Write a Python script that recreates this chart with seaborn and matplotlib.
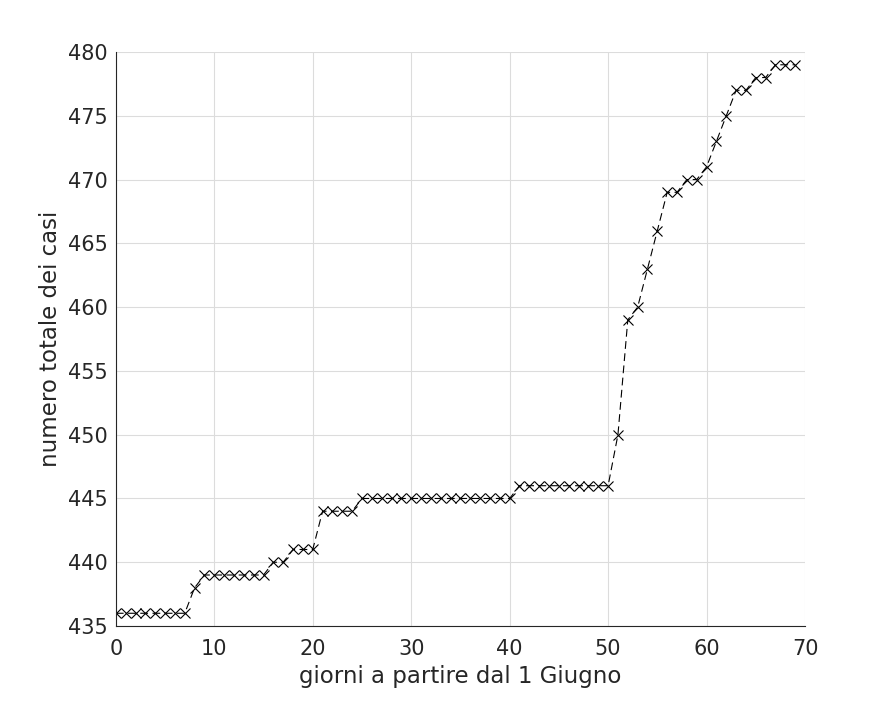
import pandas as pd
import matplotlib
matplotlib.use("Agg")
import matplotlib.pyplot as plt
import seaborn as sns

# giorni dal 1 giugno e casi totali
giorni = list(range(70))
casi = [436, 436, 436, 436, 436, 436, 436, 436, 438, 439,
        439, 439, 439, 439, 439, 439, 440, 440, 441, 441,
        441, 444, 444, 444, 444, 445, 445, 445, 445, 445,
        445, 445, 445, 445, 445, 445, 445, 445, 445, 445,
        445, 446, 446, 446, 446, 446, 446, 446, 446, 446,
        446, 450, 459, 460, 463, 466, 469, 469, 470, 470,
        471, 473, 475, 477, 477, 478, 478, 479, 479, 479]
x_ticks = [0, 10, 20, 30, 40, 50, 60, 70]
y_ticks = [435, 440, 445, 450, 455, 460, 465, 470, 475, 480]

df = pd.DataFrame({"giorni": giorni, "casi": casi})

sns.set_style("white")
plt.rcParams['font.family'] = ['DejaVu Sans']

fig = plt.figure(figsize=(8.91, 7.03), dpi=100)
ax = fig.add_axes([0.130, 0.1095, 0.7735, 0.8165])

sns.lineplot(data=df, x="giorni", y="casi", color="k", linestyle=(0, (7, 4)),
             marker="x", markersize=7, linewidth=0.8, markeredgewidth=0.8,
             markeredgecolor="k", ax=ax)

ax.set_xlim(0, 70)
ax.set_ylim(435, 480)
ax.set_xticks(x_ticks)
ax.set_yticks(y_ticks)
ax.grid(True, color="#dcdcdc", linewidth=0.8)
ax.set_axisbelow(True)
ax.spines["top"].set_visible(False)
ax.spines["right"].set_visible(False)
for s in ("left", "bottom"):
    ax.spines[s].set_color("#262626")
    ax.spines[s].set_linewidth(0.8)
ax.tick_params(direction="in", length=5, width=0.8, color="#262626",
               labelsize=15, labelcolor="#262626", pad=6)
ax.tick_params(axis="x", pad=9)
ax.set_xlabel("giorni a partire dal 1 Giugno", fontsize=16.5, color="#262626", labelpad=5)
ax.set_ylabel("numero totale dei casi", fontsize=16.5, color="#262626", labelpad=4)

fig.savefig("out.png", dpi=100)
